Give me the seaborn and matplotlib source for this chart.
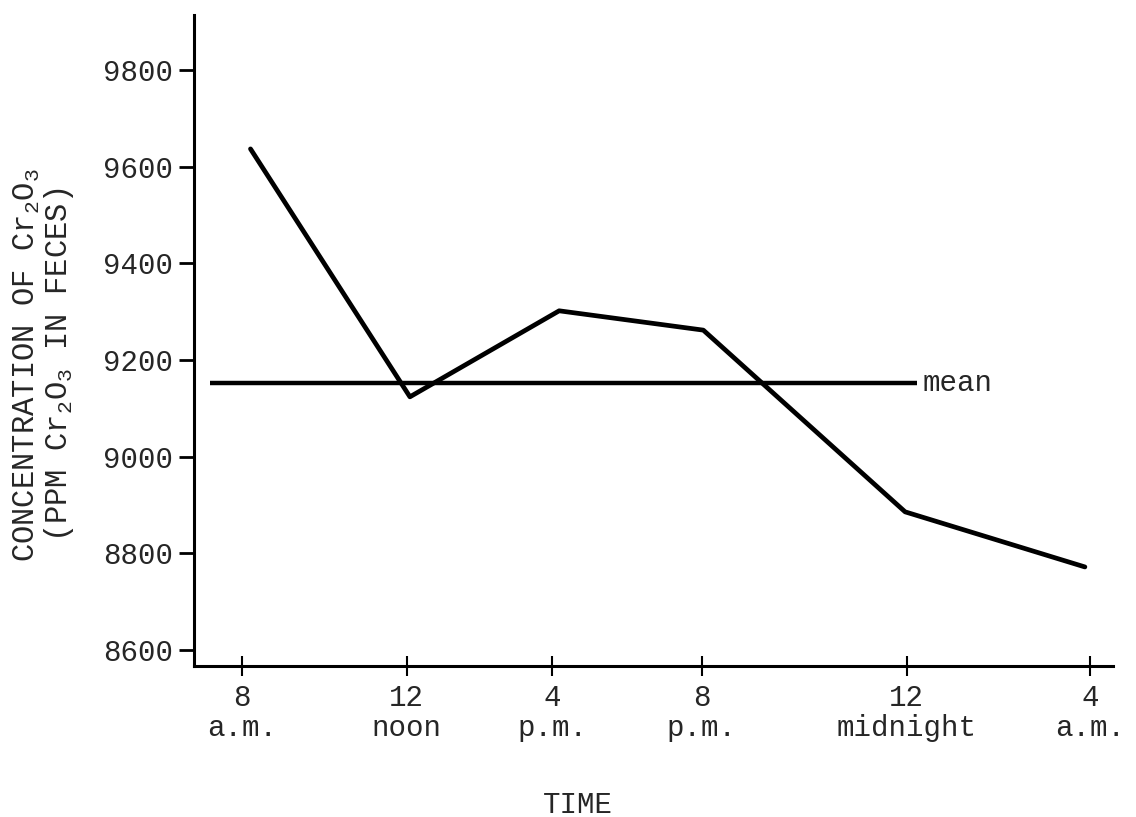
import numpy as np
import pandas as pd
import matplotlib
matplotlib.use('Agg')
import matplotlib.pyplot as plt
import seaborn as sns

# positions along the time axis (tick slots as drawn, 8 a.m. = 0)
tick_pos = [0.0, 0.97, 1.83, 2.71, 3.92, 5.0]
tick_labels = ['8\na.m.', '12\nnoon', '4\np.m.', '8\np.m.', '12\nmidnight', '4\na.m.']

# Cr2O3 concentration in feces (ppm) at each sampling time
sample_pos = [0.05, 0.99, 1.87, 2.72, 3.91, 4.97]
concentration = [9637, 9124, 9302, 9262, 8886, 8772]

# mean line
mean_value = 9152
mean_span = [-0.19, 3.98]

y_ticks = [8600, 8800, 9000, 9200, 9400, 9600, 9800]

df = pd.DataFrame({'pos': sample_pos, 'ppm': concentration})

sns.set_style('ticks')
plt.rcParams['font.family'] = ['Liberation Mono', 'DejaVu Sans Mono']
plt.rcParams['mathtext.fontset'] = 'custom'
plt.rcParams['mathtext.rm'] = 'Liberation Mono'
plt.rcParams['mathtext.it'] = 'Liberation Mono'

fs = 21
fig = plt.figure(figsize=(11.36, 8.17), dpi=100)
ax = fig.add_axes([0.1708, 0.1848, 0.809, 0.7968])

sns.lineplot(data=df, x='pos', y='ppm', color='black', linewidth=3.4, ax=ax)
ax.hlines(mean_value, mean_span[0], mean_span[1], color='black', linewidth=3.2)
ax.text(mean_span[1] + 0.035, mean_value, 'mean', fontsize=fs, ha='left', va='center')

ax.set_xlim(-0.283, 5.136)
ax.set_ylim(8567, 9914)
ax.set_xticks(tick_pos)
ax.set_xticklabels(tick_labels, fontsize=fs, linespacing=1.1)
ax.set_yticks(y_ticks)
ax.set_yticklabels([str(v) for v in y_ticks], fontsize=fs)
ax.tick_params(axis='y', direction='out', length=11, width=2, pad=4, color='black')
ax.tick_params(axis='x', direction='inout', length=14, width=1.5, pad=6, color='black')

ax.spines['top'].set_visible(False)
ax.spines['right'].set_visible(False)
ax.spines['left'].set_linewidth(2.2)
ax.spines['bottom'].set_linewidth(2.2)
ax.spines['left'].set_color('black')
ax.spines['bottom'].set_color('black')
ax.set_xlabel('')
ax.set_ylabel('')

fig.text(0.039, 0.553,
         'CONCENTRATION OF Cr$_2$O$_3$\n(PPM Cr$_2$O$_3$ IN FECES)',
         rotation=90, ha='center', va='center', multialignment='center',
         fontsize=22, linespacing=1.0)
fig.text(0.509, 0.0147, 'TIME', ha='center', va='center', fontsize=fs)

fig.savefig('out.png', dpi=100, facecolor='white')
